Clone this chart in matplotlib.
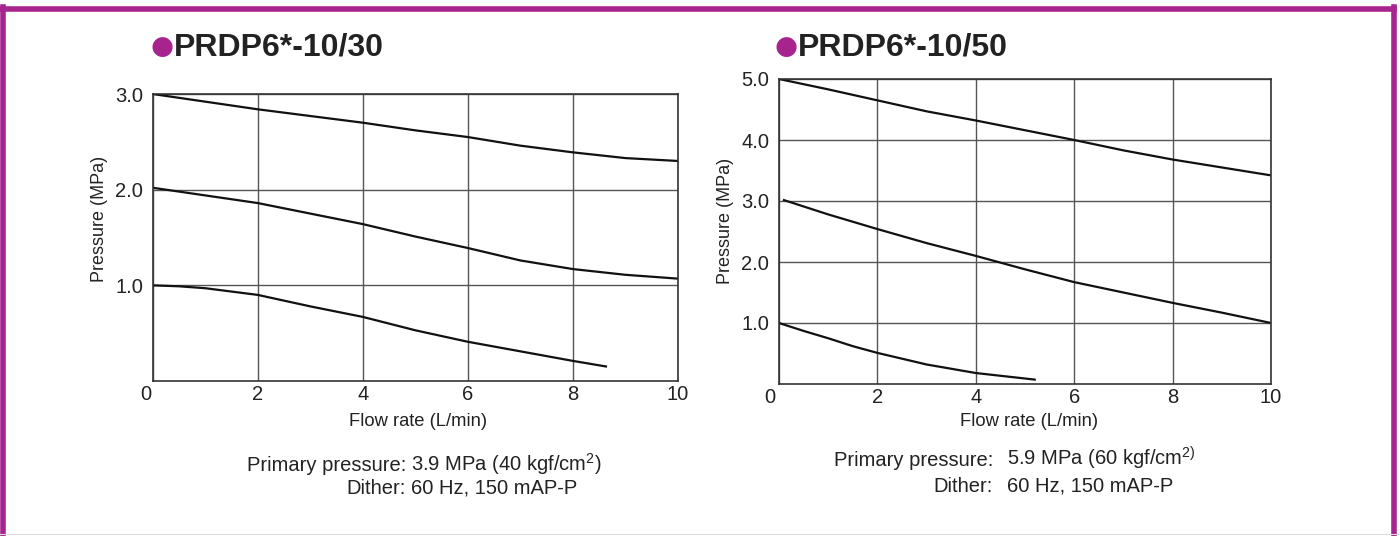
import matplotlib
matplotlib.use('Agg')
import matplotlib.pyplot as plt
from matplotlib.lines import Line2D
from matplotlib.transforms import ScaledTranslation

#Chart data (flow rate in L/min, pressure in MPa)
flowTicks = [0, 2, 4, 6, 8, 10]
flowTickLabels = ['0', '2', '4', '6', '8', '10']

leftYTicks = [1.0, 2.0, 3.0]
leftYTickLabels = ['1.0', '2.0', '3.0']
rightYTicks = [1.0, 2.0, 3.0, 4.0, 5.0]
rightYTickLabels = ['1.0', '2.0', '3.0', '4.0', '5.0']

#PRDP6*-10/30
flow30High = [0, 1, 2, 3, 4, 5, 6, 7, 8, 9, 10]
pres30High = [3.00, 2.92, 2.84, 2.77, 2.70, 2.62, 2.55, 2.46, 2.39, 2.33, 2.30]
flow30Mid = [0, 1, 2, 3, 4, 5, 6, 7, 8, 9, 10]
pres30Mid = [2.02, 1.94, 1.86, 1.75, 1.64, 1.51, 1.39, 1.26, 1.17, 1.11, 1.07]
flow30Low = [0, 0.5, 1, 2, 3, 4, 5, 6, 7, 8, 8.65]
pres30Low = [1.00, 0.99, 0.97, 0.90, 0.78, 0.67, 0.53, 0.41, 0.31, 0.21, 0.15]

#PRDP6*-10/50
flow50High = [0, 1, 2, 3, 4, 5, 6, 7, 8, 9, 10]
pres50High = [5.00, 4.83, 4.65, 4.47, 4.32, 4.16, 4.00, 3.83, 3.68, 3.55, 3.42]
flow50Mid = [0.08, 1, 2, 3, 4, 5, 6, 7, 8, 9, 10]
pres50Mid = [3.02, 2.78, 2.54, 2.31, 2.10, 1.88, 1.67, 1.50, 1.33, 1.17, 1.00]
flow50Low = [0, 0.5, 1, 1.5, 2, 3, 4, 5, 5.22]
pres50Low = [1.00, 0.87, 0.75, 0.62, 0.51, 0.32, 0.18, 0.09, 0.07]

#Captions
captionLabels = ['Primary pressure:', 'Dither:']
captionLeft = ['3.9 MPa (40 kgf/cm$\\mathregular{^2}$)', '60 Hz, 150 mAP-P']
captionRight = ['5.9 MPa (60 kgf/cm$\\mathregular{^{2)}}$', '60 Hz, 150 mAP-P']

magenta = '#A7238E'
ink = '#222222'

plt.rcParams['font.family'] = ['Liberation Sans', 'DejaVu Sans']
plt.rcParams['mathtext.fontset'] = 'custom'
plt.rcParams['mathtext.rm'] = 'Liberation Sans'

W, H = 1400, 536
fig = plt.figure(figsize=(W / 100, H / 100), dpi=100)


def px(x, y):
	return x / W, 1 - y / H


def drawChart(rect, yMax, yTicks, yTickLabels, curves, zeroShift):
	ax = fig.add_axes(rect)
	for fx, fy in curves:
		ax.plot(fx, fy, color='#111111', lw=1.6, solid_capstyle='butt')
	ax.set_xlim(0, 10)
	ax.set_ylim(0, yMax)
	ax.set_xticks(flowTicks)
	ax.set_xticklabels(flowTickLabels, fontsize=14.5, color=ink)
	ax.set_yticks(yTicks)
	ax.set_yticklabels(yTickLabels, fontsize=14.5, color=ink)
	ax.tick_params(length=0, pad=3)
	ax.tick_params(axis='y', pad=7)
	ax.grid(True, color='#555555', lw=1.0)
	ax.set_axisbelow(True)
	for s in ax.spines.values():
		s.set_color('#333333')
		s.set_linewidth(1.2)
	#shift the origin label a little to the left like the original
	lbl = ax.get_xticklabels()[0]
	lbl.set_transform(lbl.get_transform() + ScaledTranslation(zeroShift / 100, 0, fig.dpi_scale_trans))
	return ax


leftAx = drawChart([152.7 / W, 1 - 381 / H, 525.3 / W, 287 / H], 3.0, leftYTicks, leftYTickLabels,
				   [(flow30High, pres30High), (flow30Mid, pres30Mid), (flow30Low, pres30Low)], -7)
rightAx = drawChart([779 / W, 1 - 384 / H, 492 / W, 305 / H], 5.0, rightYTicks, rightYTickLabels,
					[(flow50High, pres50High), (flow50Mid, pres50Mid), (flow50Low, pres50Low)], -9)

#Titles
for dotX, textX, name in [(151, 174, 'PRDP6*-10/30'), (775, 798, 'PRDP6*-10/50')]:
	fig.text(*px(dotX, 47), '\u25cf', color=magenta, fontsize=19, va='center', ha='left',
			 family=['DejaVu Sans'])
	fig.text(*px(textX, 48), name, color=ink, fontsize=23, fontweight='bold', va='center', ha='left')

#Axis labels
fig.text(*px(418, 422), 'Flow rate (L/min)', fontsize=13.2, ha='center', va='center', color=ink)
fig.text(*px(1029, 422), 'Flow rate (L/min)', fontsize=13.2, ha='center', va='center', color=ink)
fig.text(*px(100, 219), 'Pressure (MPa)', fontsize=13, ha='center', va='center', rotation=90, color=ink)
fig.text(*px(726, 221), 'Pressure (MPa)', fontsize=13, ha='center', va='center', rotation=90, color=ink)

#Captions
for colonX, valueX, baseY, values in [(406, 411, [471, 494], captionLeft), (993, 1007, [466, 492], captionRight)]:
	for lab, val, y in zip(captionLabels, values, baseY):
		fig.text(*px(colonX, y), lab, fontsize=14.5, ha='right', va='baseline', color=ink)
		fig.text(*px(valueX, y), val, fontsize=14.5, ha='left', va='baseline', color=ink)

#Magenta frame (top, left, right)
fig.add_artist(Line2D([0, 1394 / W], [1 - 9 / H, 1 - 9 / H], color=magenta, lw=4, transform=fig.transFigure))
fig.add_artist(Line2D([2.5 / W, 2.5 / W], [0, 1 - 7 / H], color=magenta, lw=4, transform=fig.transFigure))
fig.add_artist(Line2D([1394 / W, 1394 / W], [0, 1 - 7 / H], color=magenta, lw=4, transform=fig.transFigure))
fig.add_artist(Line2D([0, 1], [1 - 534 / H, 1 - 534 / H], color='#dddddd', lw=0.8, transform=fig.transFigure))

fig.savefig('out.png', dpi=100)
